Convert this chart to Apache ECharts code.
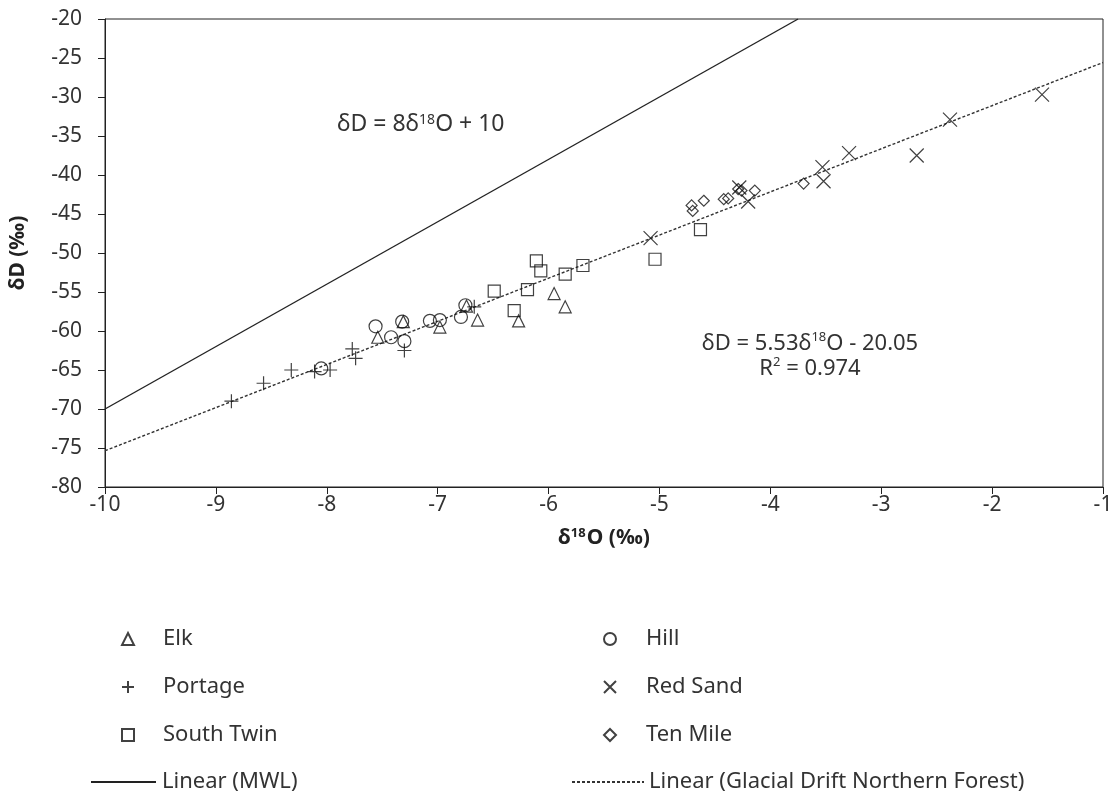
<!DOCTYPE html>
<html><head><meta charset="utf-8">
<script src="https://cdn.jsdelivr.net/npm/echarts@6/dist/echarts.min.js"></script>
<style>html,body{margin:0;padding:0;background:#fff}#c{width:1119px;height:794px}</style>
</head><body><div id="c"></div>
<script>
// Data (δ18O, δD)
const elk = [[-7.54,-60.8],[-7.31,-58.8],[-6.98,-59.5],[-6.74,-56.8],[-6.64,-58.6],[-6.27,-58.7],[-5.95,-55.2],[-5.85,-56.9]];
const hill = [[-8.05,-64.8],[-7.56,-59.4],[-7.42,-60.8],[-7.30,-61.3],[-7.32,-58.8],[-7.07,-58.7],[-6.98,-58.6],[-6.79,-58.2],[-6.75,-56.7]];
const portage = [[-8.86,-69.0],[-8.57,-66.7],[-8.32,-65.0],[-8.11,-65.2],[-7.97,-65.0],[-7.77,-62.3],[-7.74,-63.5],[-7.30,-62.5],[-6.67,-56.9]];
const southTwin = [[-6.49,-54.9],[-6.31,-57.4],[-6.19,-54.7],[-6.11,-51.0],[-6.07,-52.3],[-5.85,-52.7],[-5.69,-51.6],[-5.04,-50.8],[-4.63,-47.0]];
const redSand = [[-5.08,-48.1],[-4.28,-41.6],[-4.20,-43.4],[-3.53,-39.0],[-3.52,-40.8],[-3.29,-37.2],[-2.68,-37.5],[-2.38,-32.9],[-1.55,-29.7]];
const tenMile = [[-4.71,-43.9],[-4.70,-44.6],[-4.60,-43.3],[-4.42,-43.1],[-4.38,-43.0],[-4.29,-41.8],[-4.26,-42.0],[-4.14,-42.0],[-3.70,-41.1]];
const mwlLine = [[-10,-70],[-3.75,-20]];
const fitLine = [[-10,-75.35],[-1,-25.58]];
const xRange = [-10, -1];
const yRange = [-80, -20];

const FONT = 'Noto Sans';
const INK = '#333';
const chart = echarts.init(document.getElementById('c'), null, {renderer: 'canvas'});

function scatter(name, data, symbol, size) {
  return {
    name, type: 'scatter', data, symbol, symbolSize: size, symbolKeepAspect: true,
    itemStyle: {color: 'rgba(255,255,255,0)', borderColor: '#111', borderWidth: 1.2},
    emphasis: {disabled: true}, z: 3
  };
}
const PLUS = 'path://M0,7L14,7M7,0L7,14';
const CROSS = 'path://M0,0L14,14M14,0L0,14';

const legendText = {fontFamily: FONT, fontSize: 22, color: INK, lineHeight: 22};
const legendBase = {orient: 'vertical', itemGap: 26, selectedMode: false};

chart.setOption({
  animation: false,
  textStyle: {fontFamily: FONT},
  grid: {left: 104, right: 16, top: 19, bottom: 307, show: true, borderColor: '#222', borderWidth: 1},
  xAxis: {
    type: 'value', min: xRange[0], max: xRange[1], interval: 1,
    axisLine: {onZero: false, lineStyle: {color: '#222', width: 1}},
    axisTick: {inside: false, length: 7, lineStyle: {color: '#222'}},
    axisLabel: {fontSize: 21, color: INK, margin: 8},
    splitLine: {show: false},
    name: '{b|δ}{s|18}{b|O (‰)}', nameLocation: 'middle', nameGap: 40,
    nameTextStyle: {rich: {
      b: {fontFamily: FONT, fontSize: 21, fontWeight: 'bold', color: '#222'},
      s: {fontFamily: FONT, fontSize: 13, fontWeight: 'bold', color: '#222', verticalAlign: 'top', padding: [0,1,9,0]}
    }}
  },
  yAxis: {
    type: 'value', min: yRange[0], max: yRange[1], interval: 5,
    axisLine: {onZero: false, lineStyle: {color: '#222', width: 1}},
    axisTick: {inside: false, length: 7, lineStyle: {color: '#222'}},
    axisLabel: {fontSize: 21, color: INK, margin: 23},
    splitLine: {show: false},
    name: 'δD (‰)', nameLocation: 'middle', nameGap: 76, nameRotate: 90,
    nameTextStyle: {fontFamily: FONT, fontSize: 21, fontWeight: 'bold', color: '#222'}
  },
  legend: [
    Object.assign({}, legendBase, {data: ['Elk', 'Portage', 'South Twin'], left: 116, top: 623, itemWidth: 12, itemHeight: 12,
      textStyle: Object.assign({}, legendText, {padding: [0,0,0,24]})}),
    Object.assign({}, legendBase, {data: ['Hill', 'Red Sand', 'Ten Mile'], left: 598, top: 623, itemWidth: 12, itemHeight: 12,
      textStyle: Object.assign({}, legendText, {padding: [0,0,0,25]})}),
    Object.assign({}, legendBase, {data: ['Linear (MWL)'], left: 85, top: 766, itemWidth: 65, itemHeight: 14,
      itemStyle: {opacity: 0}, textStyle: Object.assign({}, legendText, {padding: [0,0,0,1]})}),
    Object.assign({}, legendBase, {data: ['Linear (Glacial Drift Northern Forest)'], left: 566, top: 766, itemWidth: 72, itemHeight: 14,
      itemStyle: {opacity: 0}, textStyle: Object.assign({}, legendText, {padding: [0,0,0,0]})})
  ],
  series: [
    scatter('Elk', elk, 'triangle', 12),
    scatter('Hill', hill, 'circle', 13),
    scatter('Portage', portage, PLUS, 14),
    scatter('Red Sand', redSand, CROSS, 14),
    scatter('South Twin', southTwin, 'rect', 12),
    scatter('Ten Mile', tenMile, 'diamond', 11),
    {name: 'Linear (MWL)', type: 'line', data: mwlLine, symbol: 'none', z: 2,
      lineStyle: {color: '#222', width: 1.4, type: 'solid'}, itemStyle: {color: '#222'}, emphasis: {disabled: true}},
    {name: 'Linear (Glacial Drift Northern Forest)', type: 'line', data: fitLine, symbol: 'none', z: 2,
      lineStyle: {color: '#333', width: 1.4, type: [3, 2]}, itemStyle: {color: '#333'}, emphasis: {disabled: true}}
  ],
  graphic: [
    {type: 'text', left: 337, top: 113, style: {
      text: '{a|δD = 8δ}{s|18}{a|O + 10}',
      rich: {a: {fontFamily: FONT, fontSize: 23, fill: INK}, s: {fontFamily: FONT, fontSize: 14, fill: INK, verticalAlign: 'top', padding: [0,0,9,0]}}
    }},
    {type: 'text', x: 810, y: 331, style: {
      text: '{a|δD = 5.53δ}{s|18}{a|O - 20.05}\n{a|R}{s|2}{a| = 0.974}',
      align: 'center',
      rich: {a: {fontFamily: FONT, fontSize: 22, fill: INK, lineHeight: 25}, s: {fontFamily: FONT, fontSize: 13, fill: INK, verticalAlign: 'top', padding: [0,0,9,0], lineHeight: 25}}
    }}
  ]
});
</script>
</body></html>
